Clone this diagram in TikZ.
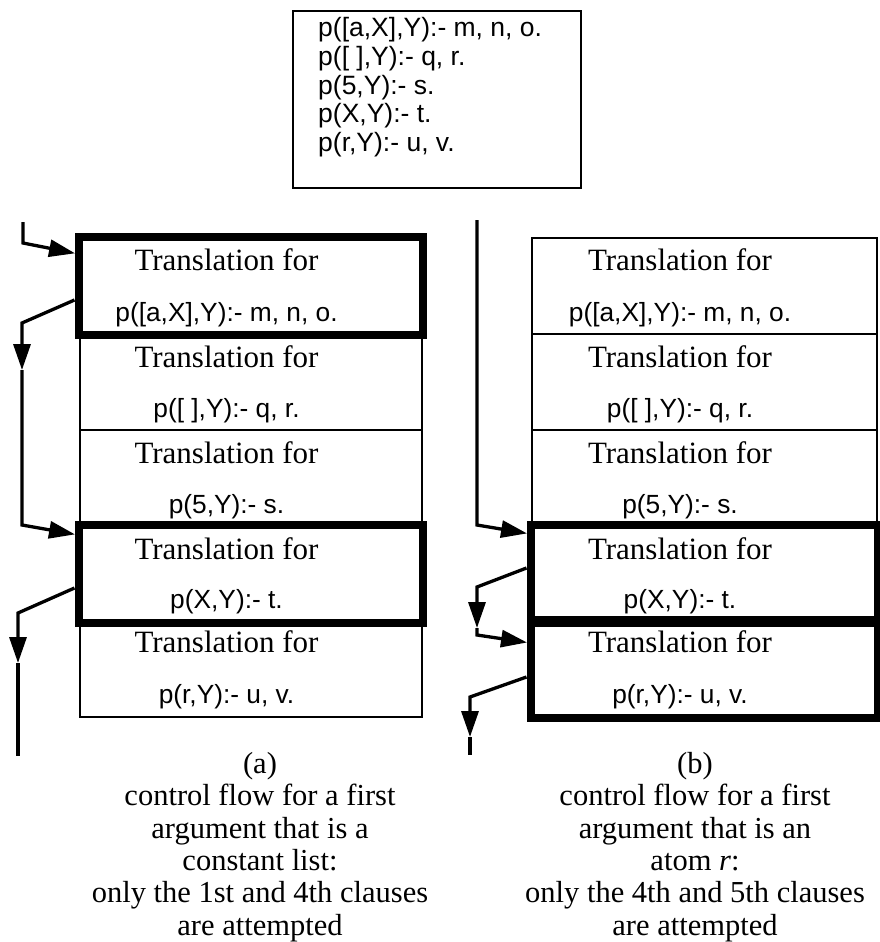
\documentclass[tikz,border=0pt]{standalone}
\usepackage{fontspec}
\setmainfont{Liberation Serif}
\setsansfont{Liberation Sans}
\usetikzlibrary{arrows.meta,calc}
\begin{document}
\begin{tikzpicture}[x=1pt,y=-1pt,
  rowbox/.style={draw,line width=2pt,minimum height=96pt,inner sep=0pt,anchor=north west},
  hilite/.style={draw,line width=8pt},
  serifline/.style={font=\fontsize{31}{33}\selectfont,anchor=base,inner sep=0pt},
  clauseline/.style={font=\sffamily\fontsize{26.3}{28}\selectfont,anchor=base,inner sep=0pt},
  progline/.style={font=\sffamily\fontsize{26.5}{28}\selectfont,anchor=base west,inner sep=0pt},
  caption/.style={font=\fontsize{30.5}{32.4}\selectfont,align=center,anchor=north,inner sep=0pt},
  flow/.style={line width=3.3pt,-{Triangle[length=26pt,width=17pt]}},
  flowline/.style={line width=3.3pt},
]
\useasboundingbox (0,0) rectangle (879,942);

% the Prolog procedure
\node[draw,line width=2pt,minimum width=288pt,minimum height=177pt,inner sep=0pt,anchor=north west] (prog) at (292,10) {};
\node[progline] (p1) at ($(prog.north west)+(26,27)$) {p([a,X],Y):- m, n, o.};
\node[progline] (p2) at ($(prog.north west)+(26,55.5)$) {p([ ],Y):- q, r.};
\node[progline] (p3) at ($(prog.north west)+(26,84)$) {p(5,Y):- s.};
\node[progline] (p4) at ($(prog.north west)+(26,112.5)$) {p(X,Y):- t.};
\node[progline] (p5) at ($(prog.north west)+(26,141)$) {p(r,Y):- u, v.};

% left column: translations of the five clauses
\node[rowbox,minimum width=342pt] (a1) at (78.5,237) {};
\node[rowbox,minimum width=342pt] (a2) at (78.5,333) {};
\node[rowbox,minimum width=342pt] (a3) at (78.5,429) {};
\node[rowbox,minimum width=342pt] (a4) at (78.5,525) {};
\node[rowbox,minimum width=342pt] (a5) at (78.5,620) {};
\draw[hilite] (a1.north west) rectangle (a1.south east);
\draw[hilite] (a4.north west) rectangle (a4.south east);

% right column: translations of the five clauses
\node[rowbox,minimum width=345pt] (b1) at (530.5,237) {};
\node[rowbox,minimum width=345pt] (b2) at (530.5,333) {};
\node[rowbox,minimum width=345pt] (b3) at (530.5,429) {};
\node[rowbox,minimum width=345pt] (b4) at (530.5,525) {};
\node[rowbox,minimum width=345pt] (b5) at (530.5,620) {};
\draw[hilite] (b4.north west) rectangle (b4.south east);
\draw[hilite] (b5.north west) rectangle (b5.south east);

% row texts
\foreach \col/\dx in {a/-24,b/-24}{
  \node[serifline] (\col1t) at ($(\col1.north)+(\dx,33)$) {Translation for};
  \node[clauseline] (\col1c) at ($(\col1.north)+(\dx,84)$) {p([a,X],Y):- m, n, o.};
  \node[serifline] (\col2t) at ($(\col2.north)+(\dx,34)$) {Translation for};
  \node[clauseline] (\col2c) at ($(\col2.north)+(\dx,84)$) {p([ ],Y):- q, r.};
  \node[serifline] (\col3t) at ($(\col3.north)+(\dx,34)$) {Translation for};
  \node[clauseline] (\col3c) at ($(\col3.north)+(\dx,84)$) {p(5,Y):- s.};
  \node[serifline] (\col4t) at ($(\col4.north)+(\dx,34)$) {Translation for};
  \node[clauseline] (\col4c) at ($(\col4.north)+(\dx,83)$) {p(X,Y):- t.};
  \node[serifline] (\col5t) at ($(\col5.north)+(\dx,32)$) {Translation for};
  \node[clauseline] (\col5c) at ($(\col5.north)+(\dx,83)$) {p(r,Y):- u, v.};
}

% control flow, left column
\coordinate (ain) at (23,222);
\coordinate (k0) at (23,243);
\coordinate (k1) at (22,323);
\coordinate (k1m) at (22,370);
\coordinate (k2) at (22,525);
\coordinate (k3) at (18,613);
\coordinate (k3m) at (18,663);
\coordinate (aout) at (18,756);
\draw[flow,shorten >=3.5pt] (ain) -- (k0) -- ($(a1.north west)+(0,17)$);
\draw[flow] ($(a1.north west)+(-4,63)$) -- (k1) -- (k1m);
\draw[flow,shorten >=3.5pt] (k1m) -- (k2) -- ($(a4.north west)+(0,10)$);
\draw[flow] ($(a4.north west)+(-4,63)$) -- (k3) -- (k3m);
\draw[flowline] (k3m) -- (aout);

% control flow, right column
\coordinate (bin) at (477,220);
\coordinate (k4) at (477,525);
\coordinate (k5) at (477,587);
\coordinate (k5m) at (477,628);
\coordinate (k6) at (477,635);
\coordinate (k7) at (470,697);
\coordinate (k7m) at (470,737);
\coordinate (bout) at (470,755);
\draw[flow,shorten >=3.5pt] (bin) -- (k4) -- ($(b4.north west)+(0,9)$);
\draw[flow] ($(b4.north west)+(-4,43)$) -- (k5) -- (k5m);
\draw[flow,shorten >=3.5pt] (k5m) -- (k6) -- ($(b5.north west)+(0,23)$);
\draw[flow] ($(b5.north west)+(-4,57)$) -- (k7) -- (k7m);
\draw[flowline] (k7m) -- (bout);

% captions
\node[caption] (capa) at (260,752) {(a)\\control flow for a first\\argument that is a\\constant list:\\only the 1st and 4th clauses\\are attempted};
\node[caption] (capb) at (695,752) {(b)\\control flow for a first\\argument that is an\\atom \textit{r}:\\only the 4th and 5th clauses\\are attempted};
\end{tikzpicture}
\end{document}
